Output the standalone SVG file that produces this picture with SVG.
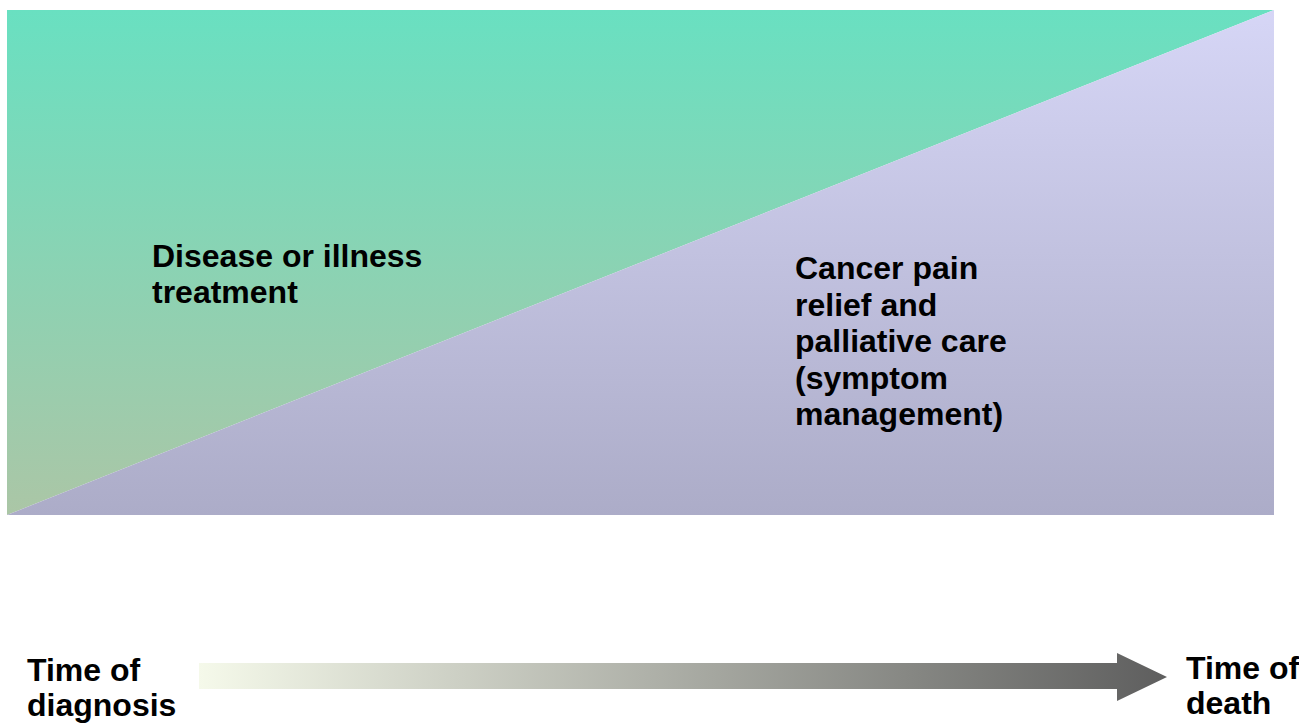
<svg xmlns="http://www.w3.org/2000/svg" width="1299" height="723" viewBox="0 0 1299 723">
  <style>
    .lbl { font-family: "Liberation Sans", Arial, sans-serif; font-weight: bold; font-size: 32px; fill: #000000; }
  </style>
  <defs>
    <linearGradient id="gGreen" gradientUnits="userSpaceOnUse" x1="0" y1="10" x2="0" y2="515">
      <stop offset="0" stop-color="#69e0c1"/>
      <stop offset="1" stop-color="#abc6a6"/>
    </linearGradient>
    <linearGradient id="gLav" gradientUnits="userSpaceOnUse" x1="0" y1="10" x2="0" y2="515">
      <stop offset="0" stop-color="#d6d6f6"/>
      <stop offset="1" stop-color="#acacc8"/>
    </linearGradient>
    <linearGradient id="gArrow" gradientUnits="userSpaceOnUse" x1="199" y1="0" x2="1167" y2="0">
      <stop offset="0" stop-color="#f5f9ea"/>
      <stop offset="1" stop-color="#5e5e5e"/>
    </linearGradient>
  </defs>

  <g id="treatment-area">
    <polygon points="7,10 1274,10 7,515" fill="url(#gGreen)"/>
    <text class="lbl" x="152" y="267">Disease or illness</text>
    <text class="lbl" x="152" y="303">treatment</text>
  </g>

  <g id="palliative-area">
    <polygon points="7,515 1274,10 1274,515" fill="url(#gLav)"/>
    <text class="lbl" x="795" y="279">Cancer pain</text>
    <text class="lbl" x="795" y="316">relief and</text>
    <text class="lbl" x="795" y="352">palliative care</text>
    <text class="lbl" x="795" y="389">(symptom</text>
    <text class="lbl" x="795" y="425">management)</text>
  </g>

  <g id="connectors">
    <polygon points="199,663 1117,663 1117,653 1167,677 1117,701 1117,689 199,689" fill="url(#gArrow)"/>
  </g>

  <g id="diagnosis">
    <text class="lbl" x="27" y="681">Time of</text>
    <text class="lbl" x="27" y="716">diagnosis</text>
  </g>

  <g id="death">
    <text class="lbl" x="1186" y="679">Time of</text>
    <text class="lbl" x="1186" y="714">death</text>
  </g>
</svg>
